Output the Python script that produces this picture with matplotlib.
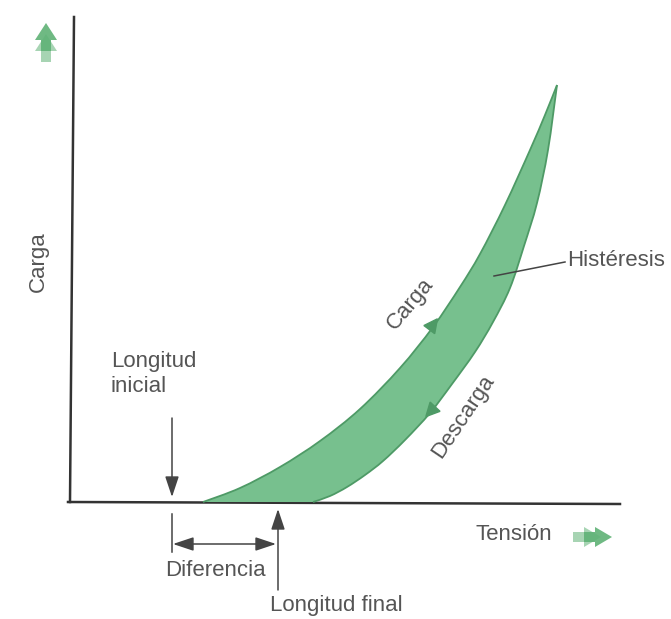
import matplotlib
matplotlib.use("Agg")
import matplotlib.pyplot as plt
from matplotlib.patches import Polygon, FancyArrowPatch, PathPatch
from matplotlib.path import Path
import numpy as np

plt.rcParams['font.family'] = ['Liberation Sans', 'DejaVu Sans']

# Curve points (pixel-like units, y downward)
load_x = [203, 240, 280, 320, 360, 400, 433, 460, 480, 505, 530, 545, 557]
load_y = [502, 488, 467, 441, 409, 368, 327, 287, 254, 205, 150, 115, 85]
unload_x = [313, 330, 347, 365, 383, 405, 430, 452, 475, 493, 510, 524, 537, 548, 557]
unload_y = [502, 496, 487, 475, 461, 440, 413, 384, 352, 322, 288, 246, 203, 150, 85]

GREEN = "#77c08e"
EDGE = "#4e9a66"
TXT = "#555555"

fig = plt.figure(figsize=(6.71, 6.19), dpi=100)
ax = fig.add_axes([0, 0, 1, 1])
ax.set_xlim(0, 671)
ax.set_ylim(619, 0)
ax.axis("off")


def smooth_path_codes(xs, ys, start_move=True):
    """Bezier path through the given points (Catmull-Rom style tangents) - rendering only."""
    pts = np.column_stack([xs, ys]).astype(float)
    verts = [pts[0]]
    codes = [Path.MOVETO if start_move else Path.LINETO]
    n = len(pts)
    for i in range(n - 1):
        p0 = pts[i - 1] if i > 0 else pts[i]
        p1 = pts[i]
        p2 = pts[i + 1]
        p3 = pts[i + 2] if i + 2 < n else pts[i + 1]
        c1 = p1 + (p2 - p0) / 6.0
        c2 = p2 - (p3 - p1) / 6.0
        verts += [c1, c2, p2]
        codes += [Path.CURVE4] * 3
    return verts, codes


lv, lc = smooth_path_codes(load_x, load_y)
uv, uc = smooth_path_codes(unload_x[::-1], unload_y[::-1], start_move=False)
fill_path = Path(lv + uv + [lv[0]], lc + uc + [Path.CLOSEPOLY])
ax.add_patch(PathPatch(fill_path, facecolor=GREEN, edgecolor="none", zorder=2))
for xs, ys in ((load_x, load_y), (unload_x, unload_y)):
    v, c = smooth_path_codes(xs, ys)
    ax.add_patch(PathPatch(Path(v, c), facecolor="none", edgecolor=EDGE, lw=1.3, zorder=3))

# axes lines
ax.plot([70, 74], [502, 17], color="#333333", lw=1.8, zorder=4)
ax.plot([68, 620], [502, 504], color="#333333", lw=1.8, zorder=1)


# direction arrows on curves
def tri(x, y, ang, size=9):
    a = np.deg2rad(ang)
    d = np.array([np.cos(a), -np.sin(a)])
    n = np.array([-d[1], d[0]])
    tip = np.array([x, y]) + d * size
    b1 = np.array([x, y]) - d * size * 0.5 + n * size * 0.75
    b2 = np.array([x, y]) - d * size * 0.5 - n * size * 0.75
    ax.add_patch(Polygon([tip, b1, b2], closed=True, color=EDGE, zorder=5))


tri(432, 326, 53)
tri(432, 410, 227)


# green double-chevron arrows
def chevrons(x, y, direction, color="#5fb276"):
    heads = []
    for off in (0, 11):
        if direction == "up":
            p = [(x, y + off), (x + 11, y + 17 + off), (x + 5, y + 17 + off), (x + 5, y + 28 + off),
                 (x - 5, y + 28 + off), (x - 5, y + 17 + off), (x - 11, y + 17 + off)]
        else:
            p = [(x - off, y), (x - 17 - off, y + 10), (x - 17 - off, y + 5), (x - 28 - off, y + 5),
                 (x - 28 - off, y - 5), (x - 17 - off, y - 5), (x - 17 - off, y - 10)]
        heads.append(p)
    for i, p in enumerate(heads[::-1]):
        ax.add_patch(Polygon(p, closed=True, color=color, alpha=0.55 + 0.35 * i, zorder=5, lw=0))


chevrons(46, 23, "up")
chevrons(612, 537, "right")


# annotation arrows
def arrow(x0, y0, x1, y1, style="-|>"):
    ax.add_patch(FancyArrowPatch((x0, y0), (x1, y1), arrowstyle=style + ",head_length=0.9,head_width=0.3",
                                 mutation_scale=14, color="#444444", lw=1.1,
                                 shrinkA=0, shrinkB=0, zorder=6))


arrow(172, 418, 172, 497)
ax.plot([172, 172], [514, 552], color="#444444", lw=1.1)
arrow(173, 544, 276, 544, style="<|-|>")
arrow(278, 590, 278, 509)
ax.plot([565, 494], [262, 276], color="#444444", lw=1.1, zorder=6)

fs = 16
ax.text(38, 262, "Carga", rotation=90, ha="center", va="center", fontsize=fs, color=TXT)
ax.text(111, 374, "Longitud\ninicial", ha="left", va="center", fontsize=fs, color=TXT, linespacing=1.2)
ax.text(215, 571, "Diferencia", ha="center", va="center", fontsize=fs, color=TXT)
ax.text(270, 605, "Longitud final", ha="left", va="center", fontsize=fs, color=TXT)
ax.text(475, 535, "Tensión", ha="left", va="center", fontsize=fs, color=TXT)
ax.text(567, 260, "Histéresis", ha="left", va="center", fontsize=fs, color=TXT)
ax.text(410, 304, "Carga", rotation=50, ha="center", va="center", fontsize=fs, color=TXT)
ax.text(463, 416, "Descarga", rotation=56, ha="center", va="center", fontsize=fs, color=TXT)

fig.savefig("out.png", dpi=100)
